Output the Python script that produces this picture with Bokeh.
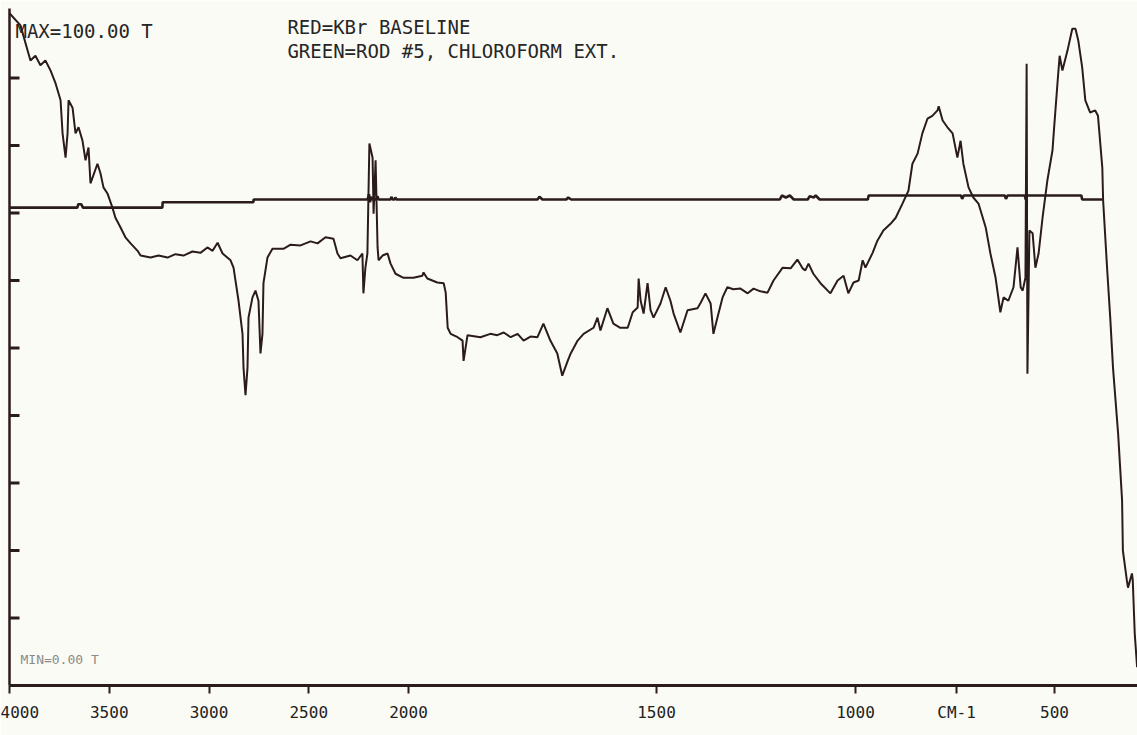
import numpy as np
from bokeh.plotting import figure
from bokeh.models import Range1d, FixedTicker, Label
from bokeh.embed import file_html
from bokeh.resources import INLINE

# ---------------- data ----------------
SAMPLE_WN = [4000, 3945, 3895, 3870, 3845, 3820, 3794, 3769, 3744, 3734,
             3719, 3709, 3704, 3684, 3669, 3654, 3634, 3619, 3604, 3594,
             3559, 3544, 3529, 3509, 3484, 3469, 3444, 3419, 3393, 3358,
             3343, 3293, 3253, 3208, 3168, 3128, 3083, 3043, 3008, 2982,
             2957, 2932, 2892, 2877, 2852, 2832, 2827, 2817, 2807, 2802,
             2782, 2767, 2752, 2742, 2732, 2727, 2707, 2682, 2627, 2591,
             2541, 2491, 2456, 2416, 2376, 2356, 2341, 2291, 2256, 2231,
             2226, 2216, 2206, 2196, 2180, 2175, 2165, 2155, 2150, 2130,
             2105, 2090, 2065, 2025, 1990, 1972, 1970, 1962, 1942, 1929,
             1925, 1921, 1915, 1901, 1891, 1889, 1881, 1855, 1835, 1821,
             1808, 1794, 1780, 1768, 1754, 1740, 1728, 1714, 1700, 1690,
             1679, 1673, 1659, 1647, 1627, 1619, 1613, 1599, 1587, 1573,
             1558, 1548, 1538, 1536, 1532, 1526, 1518, 1512, 1506, 1490,
             1477, 1465, 1457, 1440, 1422, 1397, 1389, 1377, 1364, 1357,
             1347, 1334, 1322, 1307, 1289, 1271, 1256, 1239, 1221, 1206,
             1183, 1163, 1146, 1133, 1126, 1118, 1106, 1088, 1063, 1045,
             1030, 1018, 1005, 992, 982, 975, 957, 945, 930, 912,
             899, 882, 867, 857, 844, 832, 819, 807, 794, 791,
             781, 769, 756, 744, 736, 729, 716, 704, 691, 673,
             661, 648, 636, 628, 616, 603, 593, 585, 580, 573,
             570, 568, 563, 555, 548, 540, 530, 518, 505, 502,
             492, 487, 480, 467, 455, 447, 440, 430, 422, 410,
             397, 390, 379, 377, 367, 359, 352, 339, 329, 327,
             317, 314, 304, 302, 297, 291]

SAMPLE_T = [99.6, 97.8, 92.6, 93.3, 91.9, 92.6, 91.1, 89.2, 86.7, 81.8,
            78.2, 81.8, 86.7, 85.6, 81.8, 82.7, 80.7, 77.8, 79.7, 74.4,
            77.3, 75.9, 73.8, 72.9, 70.8, 69.3, 67.9, 66.4, 65.5, 64.4,
            63.7, 63.4, 63.7, 63.4, 63.9, 63.7, 64.3, 64.1, 64.9, 64.4,
            65.6, 64.0, 63.0, 61.9, 57.0, 52.1, 47.1, 43.0, 47.1, 54.5,
            57.5, 58.5, 57.0, 49.2, 52.1, 59.6, 63.4, 64.7, 64.7, 65.3,
            65.2, 65.8, 65.5, 66.4, 66.2, 64.0, 63.3, 63.7, 63.0, 64.0,
            58.1, 61.9, 64.0, 80.3, 78.2, 69.9, 77.8, 64.9, 63.0, 63.7,
            64.0, 62.5, 61.0, 60.4, 60.4, 60.7, 61.2, 60.3, 59.7, 59.6,
            58.2, 53.0, 52.1, 51.6, 51.1, 48.1, 51.9, 51.6, 52.1, 51.9,
            52.3, 51.6, 52.1, 51.1, 51.7, 51.6, 53.6, 51.1, 49.2, 45.9,
            48.1, 49.2, 51.1, 52.1, 53.0, 54.5, 52.6, 55.9, 53.6, 53.0,
            53.0, 55.3, 56.0, 60.3, 57.0, 55.1, 59.6, 55.6, 54.5, 56.6,
            59.0, 57.0, 55.1, 52.3, 55.6, 55.9, 56.7, 58.1, 56.6, 52.1,
            54.5, 57.5, 59.0, 58.7, 58.8, 58.1, 58.8, 58.4, 58.2, 60.0,
            61.9, 61.8, 63.1, 61.8, 61.5, 62.5, 61.0, 59.6, 58.1, 60.0,
            60.7, 58.1, 59.7, 60.0, 63.0, 61.9, 64.1, 65.9, 67.4, 68.4,
            69.3, 71.4, 73.3, 77.3, 78.8, 81.8, 84.0, 84.4, 85.2, 85.8,
            83.7, 82.7, 81.8, 78.2, 80.7, 77.3, 73.8, 72.3, 71.4, 67.9,
            64.0, 60.4, 55.3, 57.5, 57.0, 59.0, 64.9, 59.0, 58.5, 60.4,
            92.1, 46.2, 67.4, 67.0, 61.9, 64.0, 69.3, 74.8, 79.3, 81.8,
            89.6, 93.3, 91.1, 94.1, 97.3, 97.3, 95.6, 91.6, 86.7, 84.9,
            85.2, 84.4, 76.7, 71.9, 61.9, 54.5, 47.1, 37.3, 27.4, 20.0,
            15.6, 14.5, 16.6, 15.6, 7.7, 2.7]

BASE_WN = [4000, 3660, 3655, 3640, 3632, 3234, 3232, 2778, 2776, 2205,
           2198, 2193, 2188, 2180, 2160, 2156, 2150, 2090, 2086, 2080,
           2070, 2066, 2060, 1740, 1736, 1730, 1682, 1678, 1672, 1190,
           1185, 1175, 1165, 1155, 1120, 1115, 1105, 1100, 1090, 969,
           967, 735, 732, 728, 625, 622, 618, 575, 572, 569,
           432, 430, 379]
BASE_T = [70.8, 70.8, 71.3, 71.3, 70.8, 70.8, 71.6, 71.6, 72.0, 72.0,
          72.8, 71.6, 72.4, 72.0, 72.0, 72.5, 72.0, 72.0, 72.4, 72.0,
          72.0, 72.3, 72.0, 72.0, 72.4, 72.0, 72.0, 72.3, 72.0, 72.0,
          72.6, 72.3, 72.6, 72.0, 72.0, 72.5, 72.3, 72.6, 72.0, 72.0,
          72.6, 72.6, 72.1, 72.6, 72.6, 72.1, 72.6, 72.6, 72.0, 72.6,
          72.6, 72.0, 72.0]

TICK_WN = [4000, 3500, 3000, 2500, 2000, 1500, 1000, 500]
TICK_LABELS = ["4000", "3500", "3000", "2500", "2000", "1500", "1000", "500"]
UNIT_WN = 746           # where the "CM-1" unit label sits on the axis
UNIT_LABEL = "CM-1"
Y_TICKS = [10, 20, 30, 40, 50, 60, 70, 80, 90]

# piecewise-linear wavenumber axis (instrument scale change)
AXIS_WN = [4000, 2000, 1500, 500, 290]
AXIS_POS = [0, 399, 647, 1045, 1128]


def to_pos(wn):
    return np.interp(-np.asarray(wn, dtype=float), -np.asarray(AXIS_WN, float), AXIS_POS)


INK = "#2b1c1c"
BG = "#fbfbf6"
FONT = "DejaVu Sans Mono"
YTICK_LEN = 10

p = figure(width=1137, height=735,
           x_range=Range1d(to_pos(4000), to_pos(290)),
           y_range=Range1d(0, 100.3),
           output_backend="svg", toolbar_location=None,
           min_border_left=9, min_border_right=0, min_border_top=8,
           min_border_bottom=50)
p.background_fill_color = BG
p.border_fill_color = BG
p.outline_line_color = None
p.grid.visible = False

p.line(to_pos(BASE_WN), BASE_T, line_color=INK, line_width=2.6)
p.line(to_pos(SAMPLE_WN), SAMPLE_T, line_color=INK, line_width=2.0)

# y tick marks drawn inward from the left axis
x0 = float(to_pos(4000))
p.segment(x0=[x0] * len(Y_TICKS), y0=Y_TICKS, x1=[x0 + YTICK_LEN] * len(Y_TICKS),
          y1=Y_TICKS, line_color=INK, line_width=3)

# x axis
xa = p.xaxis[0]
tick_pos = [float(v) for v in to_pos(TICK_WN + [UNIT_WN])]
xa.ticker = FixedTicker(ticks=tick_pos)
xa.major_label_overrides = {t: lab for t, lab in zip(tick_pos, TICK_LABELS + [UNIT_LABEL])}
xa.axis_line_color = INK
xa.axis_line_width = 3
xa.major_tick_line_color = INK
xa.major_tick_line_width = 2
xa.major_tick_out = 8
xa.major_tick_in = 0
xa.minor_tick_line_color = None
xa.major_label_text_font = FONT
xa.major_label_text_font_size = "16px"
xa.major_label_text_color = "#222222"
xa.major_label_standoff = 9

# y axis: line only
ya = p.yaxis[0]
ya.ticker = FixedTicker(ticks=[])
ya.axis_line_color = INK
ya.axis_line_width = 2.5
ya.major_tick_line_color = None
ya.minor_tick_line_color = None

text_kw = dict(text_font=FONT, text_font_size="19px", text_color="#262626")
p.add_layout(Label(x=float(to_pos(3970)), y=98.6, text="MAX=100.00 T",
                   text_baseline="top", text_align="left", **text_kw))
p.add_layout(Label(x=float(to_pos(2607)), y=99.2, text="RED=KBr BASELINE",
                   text_baseline="top", text_align="left", **text_kw))
p.add_layout(Label(x=float(to_pos(2607)), y=95.7, text="GREEN=ROD #5, CHLOROFORM EXT.",
                   text_baseline="top", text_align="left", **text_kw))
p.add_layout(Label(x=float(to_pos(3945)), y=3.85, text="MIN=0.00 T",
                   text_baseline="middle", text_align="left",
                   text_font=FONT, text_font_size="13px", text_color="#8a8a8a"))

open("out.html", "w").write(file_html(p, INLINE))
